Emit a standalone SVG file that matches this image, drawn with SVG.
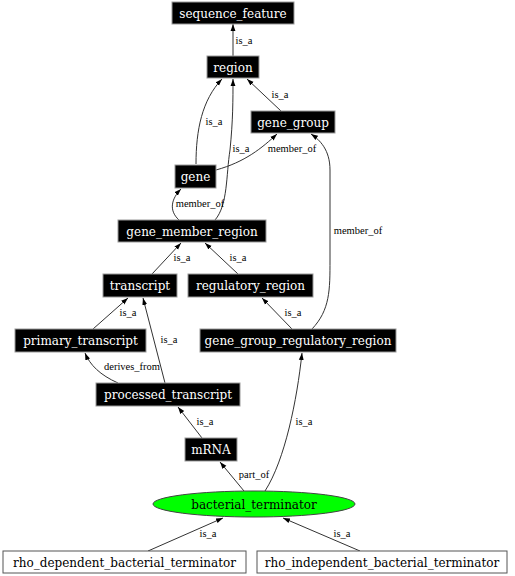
<svg xmlns="http://www.w3.org/2000/svg" width="515" height="576" viewBox="0 0 515 576">
<defs>
<marker id="ah" viewBox="0 0 10 10" refX="10" refY="5" markerWidth="7" markerHeight="7" orient="auto" markerUnits="userSpaceOnUse">
<path d="M0,1.5 L10,5 L0,8.5 z" fill="#000"/>
</marker>
<style>
.n rect{fill:#000;stroke:#999;stroke-width:1}
.n text{fill:#fff;font-family:'DejaVu Serif',serif;font-size:12px;text-anchor:middle}
.w rect{fill:#fff;stroke:#555;stroke-width:1}
.w text{fill:#000;font-family:'DejaVu Serif',serif;font-size:12px;text-anchor:middle}
.e path{fill:none;stroke:#333;stroke-width:1;marker-end:url(#ah)}
.e text{font-family:'Liberation Serif',serif;font-size:10.5px;fill:#000;text-anchor:middle}
</style>
</defs>
<rect width="515" height="576" fill="#fff"/>
<g id="connectors" class="e">
<path d="M233,56 L233,24"/><text x="244" y="44">is_a</text>
<path d="M281,111 L247,79"/><text x="280" y="98">is_a</text>
<path d="M196,164 C196,130 202,100 222,79"/><text x="214" y="125">is_a</text>
<path d="M215,220 C228,205 226,175 230,150 C233,120 233,100 233,79"/><text x="241" y="152">is_a</text>
<path d="M216,170 C245,162 262,148 277,134"/><text x="292" y="152">member_of</text>
<path d="M179,220 C168,210 172,198 181,189"/><text x="200" y="207">member_of</text>
<path d="M312,329 C330,310 330,290 330,260 L330,170 C330,150 320,140 311,134"/><text x="358" y="234">member_of</text>
<path d="M152,274 L181,243"/><text x="182" y="261">is_a</text>
<path d="M238,274 L205,243"/><text x="238" y="261">is_a</text>
<path d="M93,329 L128,298"/><text x="128" y="316">is_a</text>
<path d="M292,329 L262,298"/><text x="293" y="316">is_a</text>
<path d="M165,383 L143,298"/><text x="169" y="343">is_a</text>
<path d="M118,383 C100,375 90,365 85,353"/><text x="132" y="370">derives_from</text>
<path d="M202,438 L178,407"/><text x="205" y="425">is_a</text>
<path d="M244,491 L220,462"/><text x="254" y="478">part_of</text>
<path d="M265,491 C285,460 297,400 302,353"/><text x="304" y="425">is_a</text>
<path d="M148,551 L223,518"/><text x="208" y="537">is_a</text>
<path d="M360,551 L283,518"/><text x="342" y="537">is_a</text>
</g>
<g id="sequence_feature" class="n"><rect x="172" y="2" width="122" height="22"/><text x="233" y="17.5">sequence_feature</text></g>
<g id="region" class="n"><rect x="207" y="56" width="52" height="22"/><text x="233" y="71.5">region</text></g>
<g id="gene_group" class="n"><rect x="251" y="111" width="84" height="22"/><text x="293" y="126.5">gene_group</text></g>
<g id="gene" class="n"><rect x="175" y="165" width="41" height="23"/><text x="195.5" y="181">gene</text></g>
<g id="gene_member_region" class="n"><rect x="118" y="220" width="148" height="22"/><text x="192" y="235.5">gene_member_region</text></g>
<g id="transcript" class="n"><rect x="103" y="274" width="74" height="23"/><text x="140" y="290">transcript</text></g>
<g id="regulatory_region" class="n"><rect x="188" y="274" width="125" height="23"/><text x="250.5" y="290">regulatory_region</text></g>
<g id="primary_transcript" class="n"><rect x="15" y="329" width="131" height="23"/><text x="80.5" y="345">primary_transcript</text></g>
<g id="gene_group_regulatory_region" class="n"><rect x="200" y="329" width="196" height="23"/><text x="298" y="345">gene_group_regulatory_region</text></g>
<g id="processed_transcript" class="n"><rect x="96" y="383" width="144" height="23"/><text x="168" y="399">processed_transcript</text></g>
<g id="mRNA" class="n"><rect x="185" y="438" width="52" height="23"/><text x="211" y="454">mRNA</text></g>
<g id="bacterial_terminator"><ellipse cx="254" cy="504" rx="101" ry="13" fill="#00ff00" stroke="#444" stroke-width="1"/><text x="254" y="508.5" font-family="'DejaVu Serif', serif" font-size="12" text-anchor="middle" fill="#000">bacterial_terminator</text></g>
<g id="rho_dependent_bacterial_terminator" class="w"><rect x="3" y="551" width="243" height="22"/><text x="124.5" y="566.5">rho_dependent_bacterial_terminator</text></g>
<g id="rho_independent_bacterial_terminator" class="w"><rect x="257" y="551" width="250" height="22"/><text x="382" y="566.5">rho_independent_bacterial_terminator</text></g>
</svg>
